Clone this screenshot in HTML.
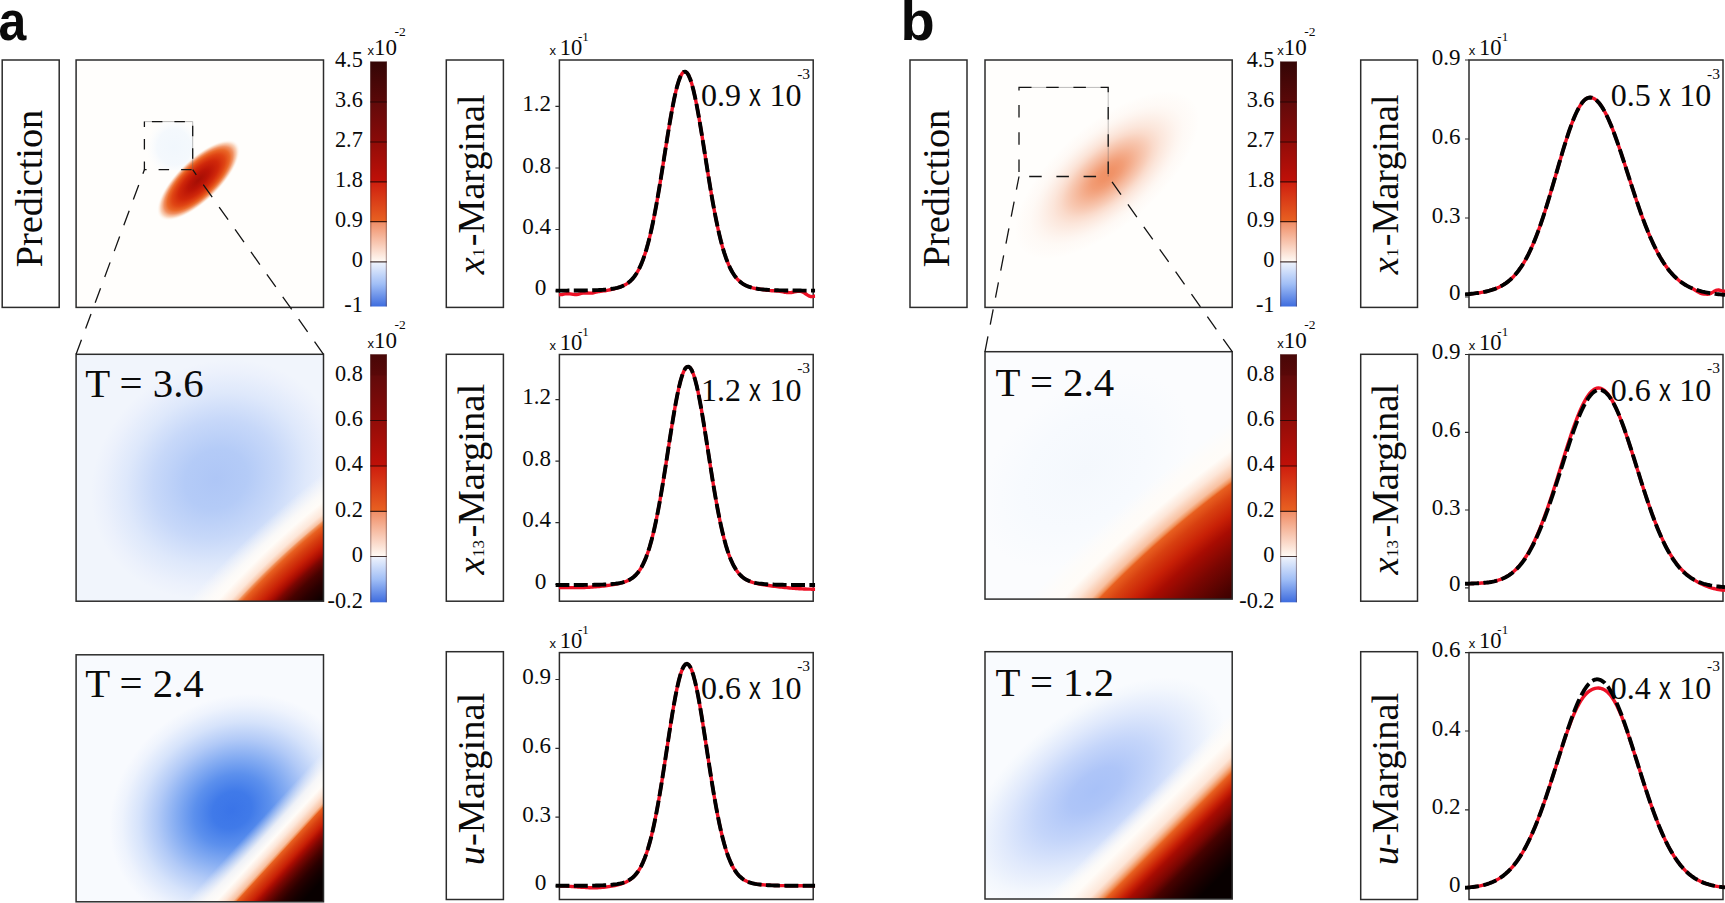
<!DOCTYPE html>
<html lang="en"><head><meta charset="utf-8"><title>Figure: prediction and marginals</title>
<style>
html,body{margin:0;padding:0;background:#fff;overflow:hidden}
svg{display:block}
text{fill:#0a0a0a}
</style></head><body>
<svg width="1725" height="903" viewBox="0 0 1725 903">
<defs>
<clipPath id="ha1"><rect x="76.1" y="60" width="247.4" height="247.4"/></clipPath>
<radialGradient id="ga1b" gradientUnits="userSpaceOnUse" cx="0" cy="0" r="1" gradientTransform="translate(174 147) rotate(0) scale(28 30)"><stop offset="0" stop-color="#f1f7fd"/><stop offset="0.6" stop-color="#f3f8fd" stop-opacity="0.9"/><stop offset="1" stop-color="#fafcfe" stop-opacity="0"/></radialGradient>
<radialGradient id="ga1" gradientUnits="userSpaceOnUse" cx="0" cy="0" r="1" gradientTransform="translate(198.5 180.2) rotate(-44) scale(54 21)"><stop offset="0" stop-color="#a40e04"/><stop offset="0.25" stop-color="#ba1406"/><stop offset="0.48" stop-color="#d0280a"/><stop offset="0.64" stop-color="#e04614"/><stop offset="0.75" stop-color="#ea6828"/><stop offset="0.83" stop-color="#f08c5c" stop-opacity="0.95"/><stop offset="0.91" stop-color="#f8c4a4" stop-opacity="0.75"/><stop offset="1" stop-color="#fffaf4" stop-opacity="0"/></radialGradient>
<radialGradient id="ga2b" gradientUnits="userSpaceOnUse" cx="0" cy="0" r="1" gradientTransform="translate(216 479) rotate(-35) scale(130 114)"><stop offset="0" stop-color="#aec6f6"/><stop offset="0.25" stop-color="#b4cbf7"/><stop offset="0.5" stop-color="#c7d8f9"/><stop offset="0.72" stop-color="#dee8fb"/><stop offset="0.9" stop-color="#ecf1fc"/><stop offset="1" stop-color="#f1f5fc"/></radialGradient>
<radialGradient id="ga2r" gradientUnits="userSpaceOnUse" cx="0" cy="0" r="1" gradientTransform="translate(353.1 653.3) rotate(-44) scale(400.92 156)"><stop offset="0" stop-color="#080000"/><stop offset="0.37" stop-color="#080000"/><stop offset="0.41" stop-color="#160000"/><stop offset="0.47" stop-color="#2a0000"/><stop offset="0.53" stop-color="#480200"/><stop offset="0.58" stop-color="#7a0602"/><stop offset="0.61" stop-color="#a80c02"/><stop offset="0.65" stop-color="#c82006"/><stop offset="0.7" stop-color="#d84010"/><stop offset="0.74" stop-color="#e86020"/><stop offset="0.76" stop-color="#f09058"/><stop offset="0.77" stop-color="#f8c0a0"/><stop offset="0.8" stop-color="#fde6d8"/><stop offset="0.86" stop-color="#fffcf8"/><stop offset="0.9" stop-color="#fffcf8" stop-opacity="0.85"/><stop offset="1" stop-color="#fffcf8" stop-opacity="0"/></radialGradient>
<radialGradient id="ga3b" gradientUnits="userSpaceOnUse" cx="0" cy="0" r="1" gradientTransform="translate(232 810) rotate(-35) scale(128 110)"><stop offset="0" stop-color="#3a74e8"/><stop offset="0.16" stop-color="#407ae9"/><stop offset="0.31" stop-color="#5c90ed"/><stop offset="0.46" stop-color="#86adf2"/><stop offset="0.61" stop-color="#b2caf7"/><stop offset="0.76" stop-color="#d6e3fb"/><stop offset="0.9" stop-color="#eef3fd"/><stop offset="1" stop-color="#f8fafe"/></radialGradient>
<linearGradient id="ga3r" gradientUnits="userSpaceOnUse" x1="323.5" y1="901.8" x2="248.3" y2="832.89"><stop offset="0" stop-color="#080000"/><stop offset="0.15" stop-color="#080000"/><stop offset="0.23" stop-color="#160000"/><stop offset="0.3" stop-color="#2a0000"/><stop offset="0.36" stop-color="#480200"/><stop offset="0.43" stop-color="#7a0602"/><stop offset="0.48" stop-color="#a80c02"/><stop offset="0.52" stop-color="#c82006"/><stop offset="0.58" stop-color="#d84010"/><stop offset="0.63" stop-color="#e86020"/><stop offset="0.64" stop-color="#f09058"/><stop offset="0.66" stop-color="#f8c0a0"/><stop offset="0.72" stop-color="#fde6d8"/><stop offset="0.78" stop-color="#fffcf8"/><stop offset="0.86" stop-color="#fffcf8" stop-opacity="0.85"/><stop offset="1" stop-color="#fffcf8" stop-opacity="0"/></linearGradient>
<clipPath id="hb1"><rect x="985" y="60" width="247.2" height="247.4"/></clipPath>
<radialGradient id="gb1" gradientUnits="userSpaceOnUse" cx="0" cy="0" r="1" gradientTransform="translate(1107 175) rotate(-41) scale(114 51)"><stop offset="0" stop-color="#f09064"/><stop offset="0.08" stop-color="#f09064" stop-opacity="0.97"/><stop offset="0.17" stop-color="#f09064" stop-opacity="0.88"/><stop offset="0.25" stop-color="#f09064" stop-opacity="0.75"/><stop offset="0.33" stop-color="#f09064" stop-opacity="0.61"/><stop offset="0.42" stop-color="#f09064" stop-opacity="0.46"/><stop offset="0.5" stop-color="#f09064" stop-opacity="0.32"/><stop offset="0.58" stop-color="#f09064" stop-opacity="0.22"/><stop offset="0.67" stop-color="#f09064" stop-opacity="0.14"/><stop offset="0.75" stop-color="#f09064" stop-opacity="0.08"/><stop offset="0.83" stop-color="#f09064" stop-opacity="0.04"/><stop offset="0.92" stop-color="#f09064" stop-opacity="0.02"/><stop offset="1" stop-color="#f09064" stop-opacity="0"/></radialGradient>
<radialGradient id="gb2b" gradientUnits="userSpaceOnUse" cx="0" cy="0" r="1" gradientTransform="translate(1085 470) rotate(-40) scale(120 80)"><stop offset="0" stop-color="#f4f8fd"/><stop offset="0.6" stop-color="#f7fafe"/><stop offset="1" stop-color="#fbfcfe"/></radialGradient>
<radialGradient id="gb2r" gradientUnits="userSpaceOnUse" cx="0" cy="0" r="1" gradientTransform="translate(1265 650.2) rotate(-41) scale(525.2 202)"><stop offset="0" stop-color="#3c0100"/><stop offset="0.3" stop-color="#3c0100"/><stop offset="0.34" stop-color="#480200"/><stop offset="0.47" stop-color="#7a0602"/><stop offset="0.57" stop-color="#a80c02"/><stop offset="0.63" stop-color="#c82006"/><stop offset="0.7" stop-color="#d84010"/><stop offset="0.75" stop-color="#e86020"/><stop offset="0.76" stop-color="#f09058"/><stop offset="0.78" stop-color="#f8c0a0"/><stop offset="0.83" stop-color="#fde6d8"/><stop offset="0.88" stop-color="#fffcf8"/><stop offset="0.92" stop-color="#fffcf8" stop-opacity="0.85"/><stop offset="1" stop-color="#fffcf8" stop-opacity="0"/></radialGradient>
<radialGradient id="gb3b" gradientUnits="userSpaceOnUse" cx="0" cy="0" r="1" gradientTransform="translate(1095 790) rotate(-38) scale(152 80)"><stop offset="0" stop-color="#a8c1f8"/><stop offset="0.2" stop-color="#aec5f8"/><stop offset="0.45" stop-color="#c4d5fa"/><stop offset="0.7" stop-color="#e0e9fc"/><stop offset="0.9" stop-color="#f3f7fd"/><stop offset="1" stop-color="#f9fbfe"/></radialGradient>
<linearGradient id="gb3r" gradientUnits="userSpaceOnUse" x1="1232.2" y1="899" x2="1137.8" y2="804.6"><stop offset="0" stop-color="#080000"/><stop offset="0.18" stop-color="#080000"/><stop offset="0.25" stop-color="#160000"/><stop offset="0.33" stop-color="#2a0000"/><stop offset="0.41" stop-color="#480200"/><stop offset="0.47" stop-color="#7a0602"/><stop offset="0.55" stop-color="#a80c02"/><stop offset="0.59" stop-color="#c82006"/><stop offset="0.63" stop-color="#d84010"/><stop offset="0.67" stop-color="#e86020"/><stop offset="0.69" stop-color="#f09058"/><stop offset="0.72" stop-color="#f8c0a0"/><stop offset="0.76" stop-color="#fde6d8"/><stop offset="0.86" stop-color="#fffcf8"/><stop offset="0.9" stop-color="#fffcf8" stop-opacity="0.85"/><stop offset="1" stop-color="#fffcf8" stop-opacity="0"/></linearGradient>
<linearGradient id="cb0" x1="0" y1="0" x2="0" y2="1"><stop offset="0.004%" stop-color="#340606"/><stop offset="16.527%" stop-color="#5a0808"/><stop offset="16.535%" stop-color="#620a0a"/><stop offset="32.853%" stop-color="#8a0a08"/><stop offset="32.861%" stop-color="#920c08"/><stop offset="49.098%" stop-color="#c01008"/><stop offset="49.106%" stop-color="#ce1e0e"/><stop offset="65.384%" stop-color="#e86222"/><stop offset="65.392%" stop-color="#f08c64"/><stop offset="81.792%" stop-color="#fffbf6"/><stop offset="81.8%" stop-color="#f0f4fc"/><stop offset="90.898%" stop-color="#a0bef6"/><stop offset="100%" stop-color="#3e6cde"/></linearGradient>
<linearGradient id="cb1" x1="0" y1="0" x2="0" y2="1"><stop offset="0.004%" stop-color="#480707"/><stop offset="8.544%" stop-color="#5a0808"/><stop offset="8.552%" stop-color="#620a0a"/><stop offset="26.69%" stop-color="#8a0a08"/><stop offset="26.698%" stop-color="#920c08"/><stop offset="45.036%" stop-color="#c01008"/><stop offset="45.044%" stop-color="#ce1e0e"/><stop offset="63.302%" stop-color="#e86222"/><stop offset="63.31%" stop-color="#f08c64"/><stop offset="81.528%" stop-color="#fffbf6"/><stop offset="81.536%" stop-color="#f0f4fc"/><stop offset="90.766%" stop-color="#a0bef6"/><stop offset="100%" stop-color="#3e6cde"/></linearGradient>
<linearGradient id="cb2" x1="0" y1="0" x2="0" y2="1"><stop offset="0.004%" stop-color="#340606"/><stop offset="16.527%" stop-color="#5a0808"/><stop offset="16.535%" stop-color="#620a0a"/><stop offset="32.853%" stop-color="#8a0a08"/><stop offset="32.861%" stop-color="#920c08"/><stop offset="49.098%" stop-color="#c01008"/><stop offset="49.106%" stop-color="#ce1e0e"/><stop offset="65.384%" stop-color="#e86222"/><stop offset="65.392%" stop-color="#f08c64"/><stop offset="81.792%" stop-color="#fffbf6"/><stop offset="81.8%" stop-color="#f0f4fc"/><stop offset="90.898%" stop-color="#a0bef6"/><stop offset="100%" stop-color="#3e6cde"/></linearGradient>
<linearGradient id="cb3" x1="0" y1="0" x2="0" y2="1"><stop offset="0.004%" stop-color="#480707"/><stop offset="8.544%" stop-color="#5a0808"/><stop offset="8.552%" stop-color="#620a0a"/><stop offset="26.69%" stop-color="#8a0a08"/><stop offset="26.698%" stop-color="#920c08"/><stop offset="45.036%" stop-color="#c01008"/><stop offset="45.044%" stop-color="#ce1e0e"/><stop offset="63.302%" stop-color="#e86222"/><stop offset="63.31%" stop-color="#f08c64"/><stop offset="81.528%" stop-color="#fffbf6"/><stop offset="81.536%" stop-color="#f0f4fc"/><stop offset="90.766%" stop-color="#a0bef6"/><stop offset="100%" stop-color="#3e6cde"/></linearGradient>
<clipPath id="cla1"><rect x="555.4" y="60" width="259.8" height="247.4"/></clipPath>
<clipPath id="cla2"><rect x="555.4" y="354.5" width="259.8" height="246.7"/></clipPath>
<clipPath id="cla3"><rect x="555.4" y="652.6" width="259.8" height="246.9"/></clipPath>
<clipPath id="clb1"><rect x="1465" y="60" width="260" height="247.4"/></clipPath>
<clipPath id="clb2"><rect x="1465" y="354.5" width="260" height="246.7"/></clipPath>
<clipPath id="clb3"><rect x="1465" y="652.6" width="260" height="246.9"/></clipPath>
</defs>
<rect width="1725" height="903" fill="#fff"/>
<text transform="translate(-1.6 40.3) scale(.9 1)" font-family='"Liberation Sans", sans-serif' font-size="55.5" font-weight="bold">a</text>
<text x="900.4" y="40.3" font-family='"Liberation Sans", sans-serif' font-size="56" text-anchor="start" font-weight="bold">b</text>
<rect x="76.1" y="60" width="247.4" height="247.4" fill="#fffefc"/>
<rect x="145" y="122" width="48" height="48" fill="url(#ga1b)"/>
<rect x="76.1" y="60" width="247.4" height="247.4" fill="url(#ga1)" clip-path="url(#ha1)"/>
<rect x="76.1" y="354.3" width="247.4" height="246.9" fill="#f1f5fc"/>
<rect x="76.1" y="354.3" width="247.4" height="246.9" fill="url(#ga2b)"/>
<rect x="76.1" y="354.3" width="247.4" height="246.9" fill="url(#ga2r)"/>
<rect x="76.1" y="654.8" width="247.4" height="247" fill="#f8fafe"/>
<rect x="76.1" y="654.8" width="247.4" height="247" fill="url(#ga3b)"/>
<rect x="76.1" y="654.8" width="247.4" height="247" fill="url(#ga3r)"/>
<rect x="985" y="60" width="247.2" height="247.4" fill="#fffefc"/>
<rect x="985" y="60" width="247.2" height="247.4" fill="url(#gb1)" clip-path="url(#hb1)"/>
<rect x="985" y="351.7" width="247.2" height="247.4" fill="#fbfcfe"/>
<rect x="985" y="351.7" width="247.2" height="247.4" fill="url(#gb2b)"/>
<rect x="985" y="351.7" width="247.2" height="247.4" fill="url(#gb2r)"/>
<rect x="985" y="651.7" width="247.2" height="247.3" fill="#f9fbfe"/>
<rect x="985" y="651.7" width="247.2" height="247.3" fill="url(#gb3b)"/>
<rect x="985" y="651.7" width="247.2" height="247.3" fill="url(#gb3r)"/>
<rect x="76.1" y="60" width="247.4" height="247.4" fill="none" stroke="#2c2c2c" stroke-width="1.5"/>
<rect x="76.1" y="354.3" width="247.4" height="246.9" fill="none" stroke="#2c2c2c" stroke-width="1.5"/>
<rect x="76.1" y="654.8" width="247.4" height="247" fill="none" stroke="#2c2c2c" stroke-width="1.5"/>
<rect x="985" y="60" width="247.2" height="247.4" fill="none" stroke="#2c2c2c" stroke-width="1.5"/>
<rect x="985" y="351.7" width="247.2" height="247.4" fill="none" stroke="#2c2c2c" stroke-width="1.5"/>
<rect x="985" y="651.7" width="247.2" height="247.3" fill="none" stroke="#2c2c2c" stroke-width="1.5"/>
<path d="M144.4 121.6H192.7V169.7" fill="none" stroke="#666" stroke-width=".45"/>
<path d="M144.4 121.6H192.7V169.7H144.4Z" fill="none" stroke="#141414" stroke-width="1.3" stroke-dasharray="10.5 12" stroke-dashoffset="-7.5"/>
<path d="M76.1 354.3L144.4 169.7" stroke="#141414" stroke-width="1.3" stroke-dasharray="15.5 12" fill="none"/>
<path d="M323.5 354.3L192.7 169.7" stroke="#141414" stroke-width="1.3" stroke-dasharray="15.5 12" fill="none"/>
<path d="M1019 87.4H1108.2V176.5" fill="none" stroke="#666" stroke-width=".45"/>
<path d="M1019 87.4H1108.2V176.5H1019Z" fill="none" stroke="#141414" stroke-width="1.3" stroke-dasharray="12.5 14.7"/>
<path d="M985 351.7L1019 176.5" stroke="#141414" stroke-width="1.3" stroke-dasharray="15.5 12" fill="none"/>
<path d="M1232.2 351.7L1108.2 176.5" stroke="#141414" stroke-width="1.3" stroke-dasharray="15.5 12" fill="none"/>
<text x="85.2" y="396.6" font-family='"Liberation Serif", serif' font-size="40.8" text-anchor="start">T = 3.6</text>
<text x="85.2" y="696.6" font-family='"Liberation Serif", serif' font-size="40.8" text-anchor="start">T = 2.4</text>
<text x="995.5" y="396.4" font-family='"Liberation Serif", serif' font-size="40.8" text-anchor="start">T = 2.4</text>
<text x="995.5" y="696.4" font-family='"Liberation Serif", serif' font-size="40.8" text-anchor="start">T = 1.2</text>
<rect x="370.3" y="61.5" width="16.5" height="245" fill="url(#cb0)"/>
<path d="M370.8 61.5V306.5M386.3 61.5V306.5" stroke="#401818" stroke-opacity=".45" stroke-width="1" fill="none"/>
<path d="M370.3 102H386.8M370.3 142H386.8M370.3 181.8H386.8M370.3 221.7H386.8M370.3 261.9H386.8" stroke="#1a0606" stroke-opacity=".8" stroke-width="1.2" fill="none"/>
<text x="362.8" y="66.7" font-family='"Liberation Serif", serif' font-size="22.3" text-anchor="end">4.5</text>
<text x="362.8" y="107.2" font-family='"Liberation Serif", serif' font-size="22.3" text-anchor="end">3.6</text>
<text x="362.8" y="147.2" font-family='"Liberation Serif", serif' font-size="22.3" text-anchor="end">2.7</text>
<text x="362.8" y="187" font-family='"Liberation Serif", serif' font-size="22.3" text-anchor="end">1.8</text>
<text x="362.8" y="226.9" font-family='"Liberation Serif", serif' font-size="22.3" text-anchor="end">0.9</text>
<text x="362.8" y="267.1" font-family='"Liberation Serif", serif' font-size="22.3" text-anchor="end">0</text>
<text x="362.8" y="311.7" font-family='"Liberation Serif", serif' font-size="22.3" text-anchor="end">-1</text>
<text x="367.4" y="55.2" font-family='"Liberation Sans", sans-serif' font-size="13" text-anchor="start">x</text>
<text x="373.9" y="55.3" font-family='"Liberation Serif", serif' font-size="23" text-anchor="start">10</text>
<text x="394.4" y="36.3" font-family='"Liberation Serif", serif' font-size="13.5" text-anchor="start">-2</text>
<rect x="370.3" y="354.3" width="16.5" height="248" fill="url(#cb1)"/>
<path d="M370.8 354.3V602.3M386.3 354.3V602.3" stroke="#401818" stroke-opacity=".45" stroke-width="1" fill="none"/>
<path d="M370.3 420.5H386.8M370.3 466H386.8M370.3 511.3H386.8M370.3 556.5H386.8" stroke="#1a0606" stroke-opacity=".8" stroke-width="1.2" fill="none"/>
<text x="362.8" y="380.7" font-family='"Liberation Serif", serif' font-size="22.3" text-anchor="end">0.8</text>
<text x="362.8" y="425.7" font-family='"Liberation Serif", serif' font-size="22.3" text-anchor="end">0.6</text>
<text x="362.8" y="471.2" font-family='"Liberation Serif", serif' font-size="22.3" text-anchor="end">0.4</text>
<text x="362.8" y="516.5" font-family='"Liberation Serif", serif' font-size="22.3" text-anchor="end">0.2</text>
<text x="362.8" y="561.7" font-family='"Liberation Serif", serif' font-size="22.3" text-anchor="end">0</text>
<text x="362.8" y="607.5" font-family='"Liberation Serif", serif' font-size="22.3" text-anchor="end">-0.2</text>
<text x="367.4" y="348" font-family='"Liberation Sans", sans-serif' font-size="13" text-anchor="start">x</text>
<text x="373.9" y="348.1" font-family='"Liberation Serif", serif' font-size="23" text-anchor="start">10</text>
<text x="394.4" y="329.1" font-family='"Liberation Serif", serif' font-size="13.5" text-anchor="start">-2</text>
<rect x="1280.2" y="61.5" width="16.7" height="245" fill="url(#cb2)"/>
<path d="M1280.7 61.5V306.5M1296.4 61.5V306.5" stroke="#401818" stroke-opacity=".45" stroke-width="1" fill="none"/>
<path d="M1280.2 102H1296.9M1280.2 142H1296.9M1280.2 181.8H1296.9M1280.2 221.7H1296.9M1280.2 261.9H1296.9" stroke="#1a0606" stroke-opacity=".8" stroke-width="1.2" fill="none"/>
<text x="1274.5" y="66.7" font-family='"Liberation Serif", serif' font-size="22.3" text-anchor="end">4.5</text>
<text x="1274.5" y="107.2" font-family='"Liberation Serif", serif' font-size="22.3" text-anchor="end">3.6</text>
<text x="1274.5" y="147.2" font-family='"Liberation Serif", serif' font-size="22.3" text-anchor="end">2.7</text>
<text x="1274.5" y="187" font-family='"Liberation Serif", serif' font-size="22.3" text-anchor="end">1.8</text>
<text x="1274.5" y="226.9" font-family='"Liberation Serif", serif' font-size="22.3" text-anchor="end">0.9</text>
<text x="1274.5" y="267.1" font-family='"Liberation Serif", serif' font-size="22.3" text-anchor="end">0</text>
<text x="1274.5" y="311.7" font-family='"Liberation Serif", serif' font-size="22.3" text-anchor="end">-1</text>
<text x="1277.3" y="55.2" font-family='"Liberation Sans", sans-serif' font-size="13" text-anchor="start">x</text>
<text x="1283.8" y="55.3" font-family='"Liberation Serif", serif' font-size="23" text-anchor="start">10</text>
<text x="1304.3" y="36.3" font-family='"Liberation Serif", serif' font-size="13.5" text-anchor="start">-2</text>
<rect x="1280.2" y="354.3" width="16.7" height="248" fill="url(#cb3)"/>
<path d="M1280.7 354.3V602.3M1296.4 354.3V602.3" stroke="#401818" stroke-opacity=".45" stroke-width="1" fill="none"/>
<path d="M1280.2 420.5H1296.9M1280.2 466H1296.9M1280.2 511.3H1296.9M1280.2 556.5H1296.9" stroke="#1a0606" stroke-opacity=".8" stroke-width="1.2" fill="none"/>
<text x="1274.5" y="380.7" font-family='"Liberation Serif", serif' font-size="22.3" text-anchor="end">0.8</text>
<text x="1274.5" y="425.7" font-family='"Liberation Serif", serif' font-size="22.3" text-anchor="end">0.6</text>
<text x="1274.5" y="471.2" font-family='"Liberation Serif", serif' font-size="22.3" text-anchor="end">0.4</text>
<text x="1274.5" y="516.5" font-family='"Liberation Serif", serif' font-size="22.3" text-anchor="end">0.2</text>
<text x="1274.5" y="561.7" font-family='"Liberation Serif", serif' font-size="22.3" text-anchor="end">0</text>
<text x="1274.5" y="607.5" font-family='"Liberation Serif", serif' font-size="22.3" text-anchor="end">-0.2</text>
<text x="1277.3" y="348" font-family='"Liberation Sans", sans-serif' font-size="13" text-anchor="start">x</text>
<text x="1283.8" y="348.1" font-family='"Liberation Serif", serif' font-size="23" text-anchor="start">10</text>
<text x="1304.3" y="329.1" font-family='"Liberation Serif", serif' font-size="13.5" text-anchor="start">-2</text>
<rect x="2.2" y="60" width="57" height="247.4" fill="none" stroke="#2c2c2c" stroke-width="1.5"/>
<rect x="446.3" y="60" width="57.1" height="247.4" fill="none" stroke="#2c2c2c" stroke-width="1.5"/>
<rect x="446.3" y="354.3" width="57.1" height="246.9" fill="none" stroke="#2c2c2c" stroke-width="1.5"/>
<rect x="446.3" y="651.7" width="57.1" height="247.8" fill="none" stroke="#2c2c2c" stroke-width="1.5"/>
<rect x="910" y="60" width="57" height="247.4" fill="none" stroke="#2c2c2c" stroke-width="1.5"/>
<rect x="1360.7" y="60" width="56.8" height="247.4" fill="none" stroke="#2c2c2c" stroke-width="1.5"/>
<rect x="1360.7" y="354.3" width="56.8" height="246.9" fill="none" stroke="#2c2c2c" stroke-width="1.5"/>
<rect x="1360.7" y="651.7" width="56.8" height="247.8" fill="none" stroke="#2c2c2c" stroke-width="1.5"/>
<text transform="translate(41.6 267.2) rotate(-90)" font-family='"Liberation Serif", serif' font-size="38.3">Prediction</text>
<text transform="translate(483.8 274.2) rotate(-90)" font-family='"Liberation Serif", serif' font-size="38.15"><tspan font-style="italic">x</tspan><tspan font-size="17" dx=".4">1</tspan><tspan dx="2.2">-Marginal</tspan></text>
<text transform="translate(483.8 574.5) rotate(-90)" font-family='"Liberation Serif", serif' font-size="38.6"><tspan font-style="italic">x</tspan><tspan font-size="17" dx=".4">13</tspan><tspan dx="2.6">-Marginal</tspan></text>
<text transform="translate(483.8 865.2) rotate(-90)" font-family='"Liberation Serif", serif' font-size="38.5"><tspan font-style="italic">u</tspan>-Marginal</text>
<text transform="translate(949.4 267.2) rotate(-90)" font-family='"Liberation Serif", serif' font-size="38.3">Prediction</text>
<text transform="translate(1398.4 274.2) rotate(-90)" font-family='"Liberation Serif", serif' font-size="38.15"><tspan font-style="italic">x</tspan><tspan font-size="17" dx=".4">1</tspan><tspan dx="2.2">-Marginal</tspan></text>
<text transform="translate(1398.4 574.5) rotate(-90)" font-family='"Liberation Serif", serif' font-size="38.6"><tspan font-style="italic">x</tspan><tspan font-size="17" dx=".4">13</tspan><tspan dx="2.6">-Marginal</tspan></text>
<text transform="translate(1398.4 865.2) rotate(-90)" font-family='"Liberation Serif", serif' font-size="38.5"><tspan font-style="italic">u</tspan>-Marginal</text>
<rect x="559.4" y="60" width="253.8" height="247.4" fill="none" stroke="#2c2c2c" stroke-width="1.5"/>
<path d="M555.4 106.4H559.4M555.4 168H559.4M555.4 229.5H559.4M555.4 291H559.4" stroke="#2c2c2c" stroke-width="1.2" fill="none"/>
<text x="551" y="110.9" font-family='"Liberation Serif", serif' font-size="23" text-anchor="end">1.2</text>
<text x="551" y="172.5" font-family='"Liberation Serif", serif' font-size="23" text-anchor="end">0.8</text>
<text x="551" y="234" font-family='"Liberation Serif", serif' font-size="23" text-anchor="end">0.4</text>
<text x="546.4" y="295.3" font-family='"Liberation Serif", serif' font-size="23.3" text-anchor="end">0</text>
<text x="549.4" y="55.4" font-family='"Liberation Sans", sans-serif' font-size="13" text-anchor="start">x</text>
<text x="559.7" y="55.4" font-family='"Liberation Serif", serif' font-size="22.5" text-anchor="start">10</text>
<text x="578" y="41.4" font-family='"Liberation Serif", serif' font-size="13" text-anchor="start">-1</text>
<g clip-path="url(#cla1)" fill="none" stroke-linejoin="round">
<path d="M558.9 294.68L560.5 294.65L562.1 294.46L563.71 294.16L565.31 293.88L566.91 293.7L568.51 293.7L570.11 293.87L571.72 294.14L573.32 294.4L574.92 294.53L576.52 294.48L578.12 294.23L579.72 293.85L581.33 293.44L582.93 293.11L584.53 292.94L586.13 292.94L587.73 293.05L589.34 293.16L590.94 293.16L592.54 292.98L594.14 292.64L595.74 292.22L597.35 291.8L598.95 291.45L600.55 291.21L602.15 291.05L603.75 290.89L605.35 290.7L606.96 290.44L608.56 290.12L610.16 289.77L611.76 289.4L613.36 289.02L614.97 288.62L616.57 288.18L618.17 287.69L619.77 287.15L621.37 286.54L622.98 285.85L624.58 285.06L626.18 284.15L627.78 283.09L629.38 281.85L630.98 280.41L632.59 278.73L634.19 276.78L635.79 274.53L637.39 271.94L638.99 268.97L640.6 265.6L642.2 261.77L643.8 257.46L645.4 252.64L647 247.28L648.61 241.36L650.21 234.86L651.81 227.8L653.41 220.17L655.01 211.99L656.61 203.31L658.22 194.17L659.82 184.64L661.42 174.8L663.02 164.74L664.62 154.57L666.23 144.41L667.83 134.4L669.43 124.66L671.03 115.35L672.63 106.61L674.24 98.58L675.84 91.38L677.44 85.16L679.04 80L680.64 76.02L682.24 73.28L683.85 71.84L685.45 71.71L687.05 72.9L688.65 75.4L690.25 79.15L691.86 84.09L693.46 90.12L695.06 97.13L696.66 105.02L698.26 113.64L699.87 122.85L701.47 132.52L703.07 142.49L704.67 152.63L706.27 162.8L707.87 172.89L709.48 182.78L711.08 192.38L712.68 201.6L714.28 210.37L715.88 218.65L717.49 226.38L719.09 233.56L720.69 240.16L722.29 246.19L723.89 251.66L725.5 256.58L727.1 260.99L728.7 264.9L730.3 268.36L731.9 271.4L733.5 274.06L735.11 276.37L736.71 278.38L738.31 280.11L739.91 281.59L741.51 282.87L743.12 283.96L744.72 284.9L746.32 285.69L747.92 286.37L749.52 286.95L751.12 287.45L752.73 287.88L754.33 288.24L755.93 288.55L757.53 288.82L759.13 289.05L760.74 289.26L762.34 289.49L763.94 289.74L765.54 290L767.14 290.23L768.75 290.43L770.35 290.58L771.95 290.69L773.55 290.77L775.15 290.86L776.76 290.97L778.36 291.13L779.96 291.35L781.56 291.62L783.16 291.93L784.76 292.22L786.37 292.44L787.97 292.57L789.57 292.58L791.17 292.47L792.77 292.25L794.38 291.95L795.98 291.65L797.58 291.4L799.18 291.26L800.78 291.31L802.38 291.81L803.99 292.67L805.59 293.75L807.19 294.86L808.79 295.82L810.39 296.46L812 296.62L813.6 296.41L815.2 296.01" stroke="#ee1126" stroke-width="3.4"/>
<path d="M555.4 290.59L557.02 290.59L558.65 290.59L560.27 290.59L561.89 290.59L563.52 290.58L565.14 290.58L566.77 290.58L568.39 290.57L570.01 290.57L571.64 290.56L573.26 290.55L574.88 290.55L576.51 290.53L578.13 290.52L579.76 290.51L581.38 290.49L583 290.47L584.63 290.45L586.25 290.42L587.88 290.39L589.5 290.36L591.12 290.32L592.75 290.28L594.37 290.22L595.99 290.16L597.62 290.1L599.24 290.02L600.87 289.93L602.49 289.83L604.11 289.71L605.74 289.57L607.36 289.42L608.98 289.24L610.61 289.03L612.23 288.8L613.86 288.52L615.48 288.2L617.1 287.82L618.73 287.38L620.35 286.86L621.97 286.26L623.6 285.55L625.22 284.71L626.85 283.73L628.47 282.58L630.09 281.24L631.72 279.67L633.34 277.85L634.96 275.73L636.59 273.28L638.21 270.47L639.84 267.25L641.46 263.59L643.08 259.45L644.71 254.8L646.33 249.6L647.95 243.83L649.58 237.48L651.2 230.54L652.83 223.02L654.45 214.93L656.07 206.3L657.7 197.19L659.32 187.64L660.94 177.75L662.57 167.61L664.19 157.32L665.82 147.01L667.44 136.81L669.06 126.86L670.69 117.32L672.31 108.32L673.93 100.03L675.56 92.57L677.18 86.09L678.81 80.69L680.43 76.48L682.05 73.54L683.68 71.93L685.3 71.66L686.92 72.76L688.55 75.2L690.17 78.93L691.8 83.88L693.42 89.96L695.04 97.06L696.67 105.05L698.29 113.79L699.91 123.14L701.54 132.95L703.16 143.07L704.79 153.35L706.41 163.67L708.03 173.88L709.66 183.88L711.28 193.57L712.9 202.85L714.53 211.68L716.15 219.98L717.78 227.72L719.4 234.89L721.02 241.46L722.65 247.45L724.27 252.87L725.89 257.73L727.52 262.06L729.14 265.9L730.77 269.28L732.39 272.25L734.01 274.83L735.64 277.07L737.26 279L738.88 280.67L740.51 282.09L742.13 283.31L743.75 284.35L745.38 285.24L747 286L748.63 286.64L750.25 287.19L751.87 287.66L753.5 288.06L755.12 288.4L756.75 288.69L758.37 288.95L759.99 289.17L761.62 289.35L763.24 289.52L764.86 289.66L766.49 289.78L768.11 289.89L769.74 289.99L771.36 290.07L772.98 290.14L774.61 290.2L776.23 290.26L777.85 290.3L779.48 290.35L781.1 290.38L782.73 290.41L784.35 290.44L785.97 290.46L787.6 290.48L789.22 290.5L790.84 290.52L792.47 290.53L794.09 290.54L795.72 290.55L797.34 290.56L798.96 290.57L800.59 290.57L802.21 290.58L803.83 290.58L805.46 290.58L807.08 290.59L808.71 290.59L810.33 290.59L811.95 290.59L813.58 290.59L815.2 290.6" stroke="#000" stroke-width="3.9" stroke-dasharray="14 4.4"/>
</g>
<text x="701" y="106" font-family='"Liberation Serif", serif' font-size="32" text-anchor="start">0.9</text>
<text x="749.1" y="106" font-family='"Liberation Sans", sans-serif' font-size="32" textLength="11.8" lengthAdjust="spacingAndGlyphs">x</text>
<text x="769.4" y="106" font-family='"Liberation Serif", serif' font-size="32" text-anchor="start">10</text>
<text x="797.2" y="78.8" font-family='"Liberation Serif", serif' font-size="15.5" text-anchor="start">-3</text>
<rect x="559.4" y="354.5" width="253.8" height="246.7" fill="none" stroke="#2c2c2c" stroke-width="1.5"/>
<path d="M555.4 399.7H559.4M555.4 461.2H559.4M555.4 522.7H559.4M555.4 584.3H559.4" stroke="#2c2c2c" stroke-width="1.2" fill="none"/>
<text x="551" y="404.2" font-family='"Liberation Serif", serif' font-size="23" text-anchor="end">1.2</text>
<text x="551" y="465.7" font-family='"Liberation Serif", serif' font-size="23" text-anchor="end">0.8</text>
<text x="551" y="527.2" font-family='"Liberation Serif", serif' font-size="23" text-anchor="end">0.4</text>
<text x="546.4" y="588.6" font-family='"Liberation Serif", serif' font-size="23.3" text-anchor="end">0</text>
<text x="549.4" y="349.9" font-family='"Liberation Sans", sans-serif' font-size="13" text-anchor="start">x</text>
<text x="559.7" y="349.9" font-family='"Liberation Serif", serif' font-size="22.5" text-anchor="start">10</text>
<text x="578" y="335.9" font-family='"Liberation Serif", serif' font-size="13" text-anchor="start">-1</text>
<g clip-path="url(#cla2)" fill="none" stroke-linejoin="round">
<path d="M558.9 587.6L560.5 587.59L562.1 587.59L563.71 587.59L565.31 587.59L566.91 587.59L568.51 587.59L570.11 587.58L571.72 587.58L573.32 587.58L574.92 587.57L576.52 587.57L578.12 587.56L579.72 587.55L581.33 587.54L582.93 587.51L584.53 587.46L586.13 587.4L587.73 587.33L589.34 587.24L590.94 587.14L592.54 587.03L594.14 586.9L595.74 586.77L597.35 586.62L598.95 586.46L600.55 586.3L602.15 586.12L603.75 585.94L605.35 585.74L606.96 585.53L608.56 585.32L610.16 585.09L611.76 584.84L613.36 584.58L614.97 584.3L616.57 584L618.17 583.67L619.77 583.3L621.37 582.89L622.98 582.43L624.58 581.91L626.18 581.31L627.78 580.63L629.38 579.83L630.98 578.9L632.59 577.8L634.19 576.5L635.79 574.98L637.39 573.19L638.99 571.11L640.6 568.69L642.2 565.89L643.8 562.68L645.4 559.02L647 554.86L648.61 550.18L650.21 544.95L651.81 539.14L653.41 532.73L655.01 525.72L656.61 518.12L658.22 509.95L659.82 501.24L661.42 492.03L663.02 482.39L664.62 472.41L666.23 462.19L667.83 451.82L669.43 441.44L671.03 431.19L672.63 421.2L674.24 411.64L675.84 402.64L677.44 394.36L679.04 386.94L680.64 380.51L682.24 375.18L683.85 371.07L685.45 368.24L687.05 366.74L688.65 366.61L690.25 367.86L691.86 370.44L693.46 374.32L695.06 379.43L696.66 385.66L698.26 392.91L699.87 401.04L701.47 409.92L703.07 419.39L704.67 429.31L706.27 439.52L707.87 449.89L709.48 460.26L711.08 470.53L712.68 480.56L714.28 490.27L715.88 499.56L717.49 508.37L719.09 516.65L720.69 524.35L722.29 531.47L723.89 537.99L725.5 543.91L727.1 549.25L728.7 554.03L730.3 558.28L731.9 562.03L733.5 565.33L735.11 568.19L736.71 570.68L738.31 572.83L739.91 574.67L741.51 576.24L743.12 577.58L744.72 578.71L746.32 579.67L747.92 580.5L749.52 581.21L751.12 581.83L752.73 582.36L754.33 582.83L755.93 583.25L757.53 583.63L759.13 583.96L760.74 584.27L762.34 584.56L763.94 584.83L765.54 585.08L767.14 585.32L768.75 585.55L770.35 585.77L771.95 585.98L773.55 586.19L775.15 586.39L776.76 586.58L778.36 586.77L779.96 586.96L781.56 587.14L783.16 587.31L784.76 587.48L786.37 587.65L787.97 587.8L789.57 587.96L791.17 588.1L792.77 588.24L794.38 588.37L795.98 588.49L797.58 588.61L799.18 588.72L800.78 588.81L802.38 588.9L803.99 588.98L805.59 589.04L807.19 589.1L808.79 589.14L810.39 589.17L812 589.19L813.6 589.19L815.2 589.19" stroke="#ee1126" stroke-width="3.4"/>
<path d="M555.4 585L557.02 585L558.65 585L560.27 585L561.89 584.99L563.52 584.99L565.14 584.99L566.77 584.99L568.39 584.99L570.01 584.98L571.64 584.98L573.26 584.98L574.88 584.97L576.51 584.97L578.13 584.96L579.76 584.95L581.38 584.95L583 584.94L584.63 584.92L586.25 584.91L587.88 584.89L589.5 584.88L591.12 584.86L592.75 584.83L594.37 584.8L595.99 584.77L597.62 584.73L599.24 584.69L600.87 584.64L602.49 584.59L604.11 584.52L605.74 584.45L607.36 584.36L608.98 584.26L610.61 584.15L612.23 584.02L613.86 583.86L615.48 583.68L617.1 583.46L618.73 583.21L620.35 582.9L621.97 582.55L623.6 582.12L625.22 581.61L626.85 581.01L628.47 580.29L630.09 579.44L631.72 578.42L633.34 577.22L634.96 575.8L636.59 574.12L638.21 572.16L639.84 569.88L641.46 567.23L643.08 564.17L644.71 560.67L646.33 556.67L647.95 552.15L649.58 547.07L651.2 541.41L652.83 535.14L654.45 528.26L656.07 520.76L657.7 512.67L659.32 504L660.94 494.81L662.57 485.17L664.19 475.14L665.82 464.83L667.44 454.34L669.06 443.81L670.69 433.38L672.31 423.19L673.93 413.4L675.56 404.16L677.18 395.64L678.81 387.97L680.43 381.3L682.05 375.76L683.68 371.45L685.3 368.44L686.92 366.81L688.55 366.58L690.17 367.76L691.8 370.32L693.42 374.22L695.04 379.37L696.67 385.68L698.29 393.04L699.91 401.3L701.54 410.32L703.16 419.95L704.79 430.03L706.41 440.4L708.03 450.91L709.66 461.42L711.28 471.81L712.9 481.94L714.53 491.72L716.15 501.06L717.78 509.9L719.4 518.19L721.02 525.88L722.65 532.97L724.27 539.44L725.89 545.3L727.52 550.56L729.14 555.26L730.77 559.42L732.39 563.08L734.01 566.28L735.64 569.06L737.26 571.46L738.88 573.52L740.51 575.28L742.13 576.78L743.75 578.05L745.38 579.13L747 580.03L748.63 580.79L750.25 581.43L751.87 581.97L753.5 582.42L755.12 582.79L756.75 583.11L758.37 583.38L759.99 583.61L761.62 583.8L763.24 583.97L764.86 584.11L766.49 584.23L768.11 584.33L769.74 584.42L771.36 584.5L772.98 584.57L774.61 584.63L776.23 584.68L777.85 584.72L779.48 584.76L781.1 584.79L782.73 584.82L784.35 584.85L785.97 584.87L787.6 584.89L789.22 584.91L790.84 584.92L792.47 584.93L794.09 584.94L795.72 584.95L797.34 584.96L798.96 584.97L800.59 584.97L802.21 584.98L803.83 584.98L805.46 584.98L807.08 584.99L808.71 584.99L810.33 584.99L811.95 584.99L813.58 584.99L815.2 584.99" stroke="#000" stroke-width="3.9" stroke-dasharray="14 4.4"/>
</g>
<text x="701" y="400.5" font-family='"Liberation Serif", serif' font-size="32" text-anchor="start">1.2</text>
<text x="749.1" y="400.5" font-family='"Liberation Sans", sans-serif' font-size="32" textLength="11.8" lengthAdjust="spacingAndGlyphs">x</text>
<text x="769.4" y="400.5" font-family='"Liberation Serif", serif' font-size="32" text-anchor="start">10</text>
<text x="797.2" y="373.3" font-family='"Liberation Serif", serif' font-size="15.5" text-anchor="start">-3</text>
<rect x="559.4" y="652.6" width="253.8" height="246.9" fill="none" stroke="#2c2c2c" stroke-width="1.5"/>
<path d="M555.4 679.5H559.4M555.4 748.3H559.4M555.4 817.2H559.4M555.4 886H559.4" stroke="#2c2c2c" stroke-width="1.2" fill="none"/>
<text x="551" y="684" font-family='"Liberation Serif", serif' font-size="23" text-anchor="end">0.9</text>
<text x="551" y="752.8" font-family='"Liberation Serif", serif' font-size="23" text-anchor="end">0.6</text>
<text x="551" y="821.7" font-family='"Liberation Serif", serif' font-size="23" text-anchor="end">0.3</text>
<text x="546.4" y="890.3" font-family='"Liberation Serif", serif' font-size="23.3" text-anchor="end">0</text>
<text x="549.4" y="648" font-family='"Liberation Sans", sans-serif' font-size="13" text-anchor="start">x</text>
<text x="559.7" y="648" font-family='"Liberation Serif", serif' font-size="22.5" text-anchor="start">10</text>
<text x="578" y="634" font-family='"Liberation Serif", serif' font-size="13" text-anchor="start">-1</text>
<g clip-path="url(#cla3)" fill="none" stroke-linejoin="round">
<path d="M558.9 885.94L560.5 885.98L562.1 886.03L563.71 886.08L565.31 886.14L566.91 886.21L568.51 886.29L570.11 886.38L571.72 886.47L573.32 886.58L574.92 886.69L576.52 886.81L578.12 886.93L579.72 887.06L581.33 887.18L582.93 887.3L584.53 887.42L586.13 887.52L587.73 887.61L589.34 887.68L590.94 887.73L592.54 887.76L594.14 887.77L595.74 887.75L597.35 887.7L598.95 887.63L600.55 887.53L602.15 887.4L603.75 887.24L605.35 887.06L606.96 886.86L608.56 886.63L610.16 886.38L611.76 886.1L613.36 885.8L614.97 885.47L616.57 885.12L618.17 884.73L619.77 884.29L621.37 883.81L622.98 883.26L624.58 882.64L626.18 881.93L627.78 881.1L629.38 880.15L630.98 879.03L632.59 877.73L634.19 876.21L635.79 874.44L637.39 872.38L638.99 870L640.6 867.24L642.2 864.08L643.8 860.48L645.4 856.38L647 851.76L648.61 846.58L650.21 840.82L651.81 834.46L653.41 827.5L655.01 819.92L656.61 811.76L658.22 803.04L659.82 793.8L661.42 784.11L663.02 774.04L664.62 763.7L666.23 753.19L667.83 742.63L669.43 732.16L671.03 721.93L672.63 712.08L674.24 702.77L675.84 694.16L677.44 686.38L679.04 679.58L680.64 673.88L682.24 669.37L683.85 666.16L685.45 664.3L687.05 663.82L688.65 664.73L690.25 667.02L691.86 670.64L693.46 675.53L695.06 681.59L696.66 688.71L698.26 696.76L699.87 705.61L701.47 715.1L703.07 725.09L704.67 735.41L706.27 745.92L707.87 756.48L709.48 766.95L711.08 777.22L712.68 787.18L714.28 796.73L715.88 805.82L717.49 814.37L719.09 822.35L720.69 829.73L722.29 836.51L723.89 842.68L725.5 848.25L727.1 853.24L728.7 857.69L730.3 861.62L731.9 865.08L733.5 868.1L735.11 870.71L736.71 872.97L738.31 874.91L739.91 876.57L741.51 877.98L743.12 879.18L744.72 880.19L746.32 881.05L747.92 881.77L749.52 882.37L751.12 882.88L752.73 883.31L754.33 883.67L755.93 883.97L757.53 884.23L759.13 884.45L760.74 884.63L762.34 884.79L763.94 884.93L765.54 885.05L767.14 885.15L768.75 885.23L770.35 885.31L771.95 885.37L773.55 885.43L775.15 885.48L776.76 885.52L778.36 885.56L779.96 885.59L781.56 885.62L783.16 885.65L784.76 885.67L786.37 885.69L787.97 885.7L789.57 885.72L791.17 885.73L792.77 885.74L794.38 885.75L795.98 885.76L797.58 885.76L799.18 885.77L800.78 885.78L802.38 885.78L803.99 885.78L805.59 885.79L807.19 885.79L808.79 885.79L810.39 885.79L812 885.79L813.6 885.79L815.2 885.8" stroke="#ee1126" stroke-width="3.4"/>
<path d="M555.4 885.8L557.02 885.8L558.65 885.8L560.27 885.79L561.89 885.79L563.52 885.79L565.14 885.79L566.77 885.79L568.39 885.79L570.01 885.78L571.64 885.78L573.26 885.77L574.88 885.77L576.51 885.76L578.13 885.76L579.76 885.75L581.38 885.74L583 885.73L584.63 885.71L586.25 885.7L587.88 885.68L589.5 885.66L591.12 885.64L592.75 885.61L594.37 885.58L595.99 885.54L597.62 885.5L599.24 885.46L600.87 885.4L602.49 885.34L604.11 885.27L605.74 885.19L607.36 885.09L608.98 884.98L610.61 884.85L612.23 884.7L613.86 884.52L615.48 884.32L617.1 884.07L618.73 883.78L620.35 883.43L621.97 883.02L623.6 882.53L625.22 881.95L626.85 881.26L628.47 880.43L630.09 879.45L631.72 878.28L633.34 876.9L634.96 875.27L636.59 873.37L638.21 871.14L639.84 868.55L641.46 865.56L643.08 862.12L644.71 858.2L646.33 853.75L647.95 848.74L649.58 843.15L651.2 836.94L652.83 830.11L654.45 822.65L656.07 814.58L657.7 805.93L659.32 796.72L660.94 787.03L662.57 776.93L664.19 766.51L665.82 755.89L667.44 745.19L669.06 734.54L670.69 724.1L672.31 714.03L673.93 704.48L675.56 695.6L677.18 687.57L678.81 680.51L680.43 674.57L682.05 669.85L683.68 666.44L685.3 664.41L686.92 663.8L688.55 664.63L690.17 666.87L691.8 670.48L693.42 675.4L695.04 681.52L696.67 688.73L698.29 696.91L699.91 705.89L701.54 715.53L703.16 725.68L704.79 736.16L706.41 746.82L708.03 757.52L709.66 768.12L711.28 778.49L712.9 788.54L714.53 798.16L716.15 807.28L717.78 815.85L719.4 823.83L721.02 831.19L722.65 837.93L724.27 844.04L725.89 849.55L727.52 854.46L729.14 858.83L730.77 862.67L732.39 866.04L734.01 868.97L735.64 871.5L737.26 873.68L738.88 875.54L740.51 877.12L742.13 878.47L743.75 879.61L745.38 880.56L747 881.37L748.63 882.05L750.25 882.61L751.87 883.09L753.5 883.49L755.12 883.83L756.75 884.11L758.37 884.35L759.99 884.55L761.62 884.72L763.24 884.87L764.86 885L766.49 885.11L768.11 885.2L769.74 885.28L771.36 885.35L772.98 885.41L774.61 885.46L776.23 885.51L777.85 885.55L779.48 885.59L781.1 885.62L782.73 885.64L784.35 885.66L785.97 885.68L787.6 885.7L789.22 885.72L790.84 885.73L792.47 885.74L794.09 885.75L795.72 885.76L797.34 885.76L798.96 885.77L800.59 885.77L802.21 885.78L803.83 885.78L805.46 885.79L807.08 885.79L808.71 885.79L810.33 885.79L811.95 885.79L813.58 885.79L815.2 885.8" stroke="#000" stroke-width="3.9" stroke-dasharray="14 4.4"/>
</g>
<text x="701" y="698.6" font-family='"Liberation Serif", serif' font-size="32" text-anchor="start">0.6</text>
<text x="749.1" y="698.6" font-family='"Liberation Sans", sans-serif' font-size="32" textLength="11.8" lengthAdjust="spacingAndGlyphs">x</text>
<text x="769.4" y="698.6" font-family='"Liberation Serif", serif' font-size="32" text-anchor="start">10</text>
<text x="797.2" y="671.4" font-family='"Liberation Serif", serif' font-size="15.5" text-anchor="start">-3</text>
<rect x="1469" y="60" width="254" height="247.4" fill="none" stroke="#2c2c2c" stroke-width="1.5"/>
<path d="M1465 60H1469M1465 139H1469M1465 218H1469M1465 297H1469" stroke="#2c2c2c" stroke-width="1.2" fill="none"/>
<text x="1460.6" y="64.5" font-family='"Liberation Serif", serif' font-size="23" text-anchor="end">0.9</text>
<text x="1460.6" y="143.5" font-family='"Liberation Serif", serif' font-size="23" text-anchor="end">0.6</text>
<text x="1460.6" y="222.5" font-family='"Liberation Serif", serif' font-size="23" text-anchor="end">0.3</text>
<text x="1460.6" y="300.3" font-family='"Liberation Serif", serif' font-size="23" text-anchor="end">0</text>
<text x="1468.7" y="55.4" font-family='"Liberation Sans", sans-serif' font-size="13" text-anchor="start">x</text>
<text x="1479" y="55.4" font-family='"Liberation Serif", serif' font-size="22.5" text-anchor="start">10</text>
<text x="1497.3" y="41.4" font-family='"Liberation Serif", serif' font-size="13" text-anchor="start">-1</text>
<g clip-path="url(#clb1)" fill="none" stroke-linejoin="round">
<path d="M1468.5 294.08L1470.1 293.92L1471.71 293.75L1473.31 293.57L1474.91 293.38L1476.52 293.17L1478.12 292.94L1479.72 292.7L1481.33 292.43L1482.93 292.14L1484.53 291.82L1486.13 291.48L1487.74 291.1L1489.34 290.68L1490.94 290.22L1492.55 289.72L1494.15 289.17L1495.75 288.57L1497.36 287.91L1498.96 287.18L1500.56 286.38L1502.17 285.51L1503.77 284.55L1505.37 283.51L1506.97 282.37L1508.58 281.12L1510.18 279.76L1511.78 278.29L1513.39 276.69L1514.99 274.95L1516.59 273.08L1518.2 271.05L1519.8 268.88L1521.4 266.53L1523.01 264.02L1524.61 261.34L1526.21 258.48L1527.82 255.43L1529.42 252.2L1531.02 248.78L1532.62 245.17L1534.23 241.37L1535.83 237.38L1537.43 233.2L1539.04 228.85L1540.64 224.31L1542.24 219.62L1543.85 214.76L1545.45 209.76L1547.05 204.62L1548.66 199.37L1550.26 194.01L1551.86 188.58L1553.47 183.08L1555.07 177.54L1556.67 171.98L1558.28 166.43L1559.88 160.91L1561.48 155.45L1563.08 150.08L1564.69 144.82L1566.29 139.71L1567.89 134.77L1569.5 130.03L1571.1 125.52L1572.7 121.26L1574.31 117.28L1575.91 113.61L1577.51 110.27L1579.12 107.28L1580.72 104.66L1582.32 102.43L1583.92 100.6L1585.53 99.19L1587.13 98.2L1588.73 97.64L1590.34 97.51L1591.94 97.76L1593.54 98.35L1595.15 99.29L1596.75 100.57L1598.35 102.18L1599.96 104.11L1601.56 106.36L1603.16 108.91L1604.77 111.75L1606.37 114.86L1607.97 118.23L1609.58 121.84L1611.18 125.68L1612.78 129.71L1614.38 133.94L1615.99 138.32L1617.59 142.86L1619.19 147.52L1620.8 152.28L1622.4 157.13L1624 162.04L1625.61 166.99L1627.21 171.98L1628.81 176.96L1630.42 181.94L1632.02 186.89L1633.62 191.8L1635.22 196.65L1636.83 201.43L1638.43 206.12L1640.03 210.72L1641.64 215.2L1643.24 219.58L1644.84 223.82L1646.45 227.94L1648.05 231.91L1649.65 235.75L1651.26 239.43L1652.86 242.97L1654.46 246.36L1656.07 249.59L1657.67 252.67L1659.27 255.6L1660.88 258.38L1662.48 261.02L1664.08 263.5L1665.68 265.85L1667.29 268.06L1668.89 270.13L1670.49 272.08L1672.1 273.9L1673.7 275.6L1675.3 277.18L1676.91 278.66L1678.51 280.04L1680.11 281.31L1681.72 282.49L1683.32 283.59L1684.92 284.6L1686.53 285.53L1688.13 286.4L1689.73 287.19L1691.33 287.92L1692.94 288.83L1694.54 289.78L1696.14 290.77L1697.75 291.74L1699.35 292.62L1700.95 293.33L1702.56 293.82L1704.16 294.06L1705.76 294.15L1707.37 294.18L1708.97 294.08L1710.57 293.49L1712.17 292.58L1713.78 291.59L1715.38 290.72L1716.98 290.14L1718.59 289.98L1720.19 290.36L1721.79 290.9L1723.4 291.23L1725 291.32" stroke="#ee1126" stroke-width="3.4"/>
<path d="M1465 294.39L1466.62 294.25L1468.25 294.1L1469.88 293.95L1471.5 293.78L1473.12 293.6L1474.75 293.4L1476.38 293.19L1478 292.96L1479.62 292.71L1481.25 292.44L1482.88 292.15L1484.5 291.83L1486.12 291.48L1487.75 291.09L1489.38 290.67L1491 290.21L1492.62 289.7L1494.25 289.14L1495.88 288.52L1497.5 287.84L1499.12 287.1L1500.75 286.29L1502.38 285.39L1504 284.41L1505.62 283.34L1507.25 282.16L1508.88 280.88L1510.5 279.48L1512.12 277.96L1513.75 276.31L1515.38 274.52L1517 272.58L1518.62 270.49L1520.25 268.23L1521.88 265.81L1523.5 263.22L1525.12 260.44L1526.75 257.48L1528.38 254.33L1530 250.98L1531.62 247.44L1533.25 243.71L1534.88 239.78L1536.5 235.66L1538.12 231.35L1539.75 226.85L1541.38 222.18L1543 217.34L1544.62 212.35L1546.25 207.21L1547.88 201.94L1549.5 196.56L1551.12 191.09L1552.75 185.54L1554.38 179.94L1556 174.31L1557.62 168.68L1559.25 163.07L1560.88 157.51L1562.5 152.02L1564.12 146.65L1565.75 141.42L1567.38 136.35L1569 131.47L1570.62 126.83L1572.25 122.44L1573.88 118.32L1575.5 114.52L1577.12 111.05L1578.75 107.93L1580.38 105.19L1582 102.85L1583.62 100.91L1585.25 99.4L1586.88 98.33L1588.5 97.69L1590.12 97.5L1591.75 97.71L1593.38 98.27L1595 99.19L1596.62 100.46L1598.25 102.07L1599.88 104.01L1601.5 106.27L1603.12 108.85L1604.75 111.72L1606.38 114.87L1608 118.29L1609.62 121.96L1611.25 125.85L1612.88 129.96L1614.5 134.25L1616.12 138.71L1617.75 143.32L1619.38 148.05L1621 152.89L1622.62 157.81L1624.25 162.8L1625.88 167.83L1627.5 172.88L1629.12 177.94L1630.75 182.98L1632.38 187.99L1634 192.95L1635.62 197.85L1637.25 202.67L1638.88 207.4L1640.5 212.03L1642.12 216.55L1643.75 220.94L1645.38 225.2L1647 229.32L1648.62 233.3L1650.25 237.14L1651.88 240.82L1653.5 244.34L1655.12 247.71L1656.75 250.93L1658.38 253.98L1660 256.88L1661.62 259.63L1663.25 262.23L1664.88 264.68L1666.5 266.99L1668.12 269.16L1669.75 271.19L1671.38 273.09L1673 274.87L1674.62 276.53L1676.25 278.07L1677.88 279.5L1679.5 280.83L1681.12 282.07L1682.75 283.21L1684.38 284.26L1686 285.24L1687.62 286.13L1689.25 286.96L1690.88 287.72L1692.5 288.42L1694.12 289.06L1695.75 289.65L1697.38 290.19L1699 290.69L1700.62 291.14L1702.25 291.56L1703.88 291.94L1705.5 292.29L1707.12 292.61L1708.75 292.91L1710.38 293.18L1712 293.43L1713.62 293.66L1715.25 293.87L1716.88 294.07L1718.5 294.25L1720.12 294.41L1721.75 294.57L1723.38 294.71L1725 294.84" stroke="#000" stroke-width="3.9" stroke-dasharray="14 4.4"/>
</g>
<text x="1610.8" y="106" font-family='"Liberation Serif", serif' font-size="32" text-anchor="start">0.5</text>
<text x="1658.9" y="106" font-family='"Liberation Sans", sans-serif' font-size="32" textLength="11.8" lengthAdjust="spacingAndGlyphs">x</text>
<text x="1679.2" y="106" font-family='"Liberation Serif", serif' font-size="32" text-anchor="start">10</text>
<text x="1707" y="78.8" font-family='"Liberation Serif", serif' font-size="15.5" text-anchor="start">-3</text>
<rect x="1469" y="354.5" width="254" height="246.7" fill="none" stroke="#2c2c2c" stroke-width="1.5"/>
<path d="M1465 354.5H1469M1465 432.3H1469M1465 510H1469M1465 587.8H1469" stroke="#2c2c2c" stroke-width="1.2" fill="none"/>
<text x="1460.6" y="359" font-family='"Liberation Serif", serif' font-size="23" text-anchor="end">0.9</text>
<text x="1460.6" y="436.8" font-family='"Liberation Serif", serif' font-size="23" text-anchor="end">0.6</text>
<text x="1460.6" y="514.5" font-family='"Liberation Serif", serif' font-size="23" text-anchor="end">0.3</text>
<text x="1460.6" y="591.1" font-family='"Liberation Serif", serif' font-size="23" text-anchor="end">0</text>
<text x="1468.7" y="349.9" font-family='"Liberation Sans", sans-serif' font-size="13" text-anchor="start">x</text>
<text x="1479" y="349.9" font-family='"Liberation Serif", serif' font-size="22.5" text-anchor="start">10</text>
<text x="1497.3" y="335.9" font-family='"Liberation Serif", serif' font-size="13" text-anchor="start">-1</text>
<g clip-path="url(#clb2)" fill="none" stroke-linejoin="round">
<path d="M1468.5 583.69L1470.1 583.63L1471.71 583.56L1473.31 583.49L1474.91 583.42L1476.52 583.35L1478.12 583.27L1479.72 583.18L1481.33 583.07L1482.93 582.95L1484.53 582.81L1486.13 582.65L1487.74 582.45L1489.34 582.23L1490.94 581.97L1492.55 581.68L1494.15 581.33L1495.75 580.94L1497.36 580.5L1498.96 579.99L1500.56 579.42L1502.17 578.77L1503.77 578.05L1505.37 577.25L1506.97 576.35L1508.58 575.36L1510.18 574.27L1511.78 573.07L1513.39 571.75L1514.99 570.31L1516.59 568.74L1518.2 567.04L1519.8 565.19L1521.4 563.2L1523.01 561.05L1524.61 558.75L1526.21 556.28L1527.82 553.65L1529.42 550.85L1531.02 547.88L1532.62 544.74L1534.23 541.44L1535.83 537.98L1537.43 534.36L1539.04 530.58L1540.64 526.65L1542.24 522.56L1543.85 518.33L1545.45 513.95L1547.05 509.45L1548.66 504.81L1550.26 500.07L1551.86 495.22L1553.47 490.28L1555.07 485.26L1556.67 480.19L1558.28 475.06L1559.88 469.91L1561.48 464.74L1563.08 459.58L1564.69 454.45L1566.29 449.36L1567.89 444.34L1569.5 439.41L1571.1 434.59L1572.7 429.9L1574.31 425.36L1575.91 420.99L1577.51 416.82L1579.12 412.86L1580.72 409.14L1582.32 405.66L1583.92 402.46L1585.53 399.54L1587.13 396.93L1588.73 394.63L1590.34 392.65L1591.94 391.02L1593.54 389.73L1595.15 388.79L1596.75 388.22L1598.35 388L1599.96 388.15L1601.56 388.65L1603.16 389.5L1604.77 390.7L1606.37 392.24L1607.97 394.11L1609.58 396.31L1611.18 398.82L1612.78 401.62L1614.38 404.71L1615.99 408.08L1617.59 411.69L1619.19 415.53L1620.8 419.6L1622.4 423.86L1624 428.29L1625.61 432.88L1627.21 437.61L1628.81 442.45L1630.42 447.38L1632.02 452.39L1633.62 457.45L1635.22 462.55L1636.83 467.66L1638.43 472.77L1640.03 477.85L1641.64 482.9L1643.24 487.9L1644.84 492.82L1646.45 497.67L1648.05 502.41L1649.65 507.06L1651.26 511.58L1652.86 515.98L1654.46 520.25L1656.07 524.37L1657.67 528.35L1659.27 532.18L1660.88 535.86L1662.48 539.38L1664.08 542.74L1665.68 545.94L1667.29 548.98L1668.89 551.87L1670.49 554.6L1672.1 557.18L1673.7 559.6L1675.3 561.88L1676.91 564.02L1678.51 566.03L1680.11 567.89L1681.72 569.63L1683.32 571.25L1684.92 572.75L1686.53 574.16L1688.13 575.49L1689.73 576.74L1691.33 577.93L1692.94 579.05L1694.54 580.11L1696.14 581.1L1697.75 582.04L1699.35 582.92L1700.95 583.74L1702.56 584.52L1704.16 585.23L1705.76 585.9L1707.37 586.52L1708.97 587.09L1710.57 587.62L1712.17 588.09L1713.78 588.52L1715.38 588.9L1716.98 589.24L1718.59 589.53L1720.19 589.77L1721.79 589.96L1723.4 590.1L1725 590.22" stroke="#ee1126" stroke-width="3.4"/>
<path d="M1465 583.82L1466.62 583.76L1468.25 583.69L1469.88 583.62L1471.5 583.55L1473.12 583.48L1474.75 583.41L1476.38 583.34L1478 583.26L1479.62 583.17L1481.25 583.06L1482.88 582.94L1484.5 582.8L1486.12 582.63L1487.75 582.44L1489.38 582.22L1491 581.96L1492.62 581.66L1494.25 581.32L1495.88 580.92L1497.5 580.47L1499.12 579.96L1500.75 579.39L1502.38 578.74L1504 578.01L1505.62 577.2L1507.25 576.3L1508.88 575.31L1510.5 574.21L1512.12 572.99L1513.75 571.67L1515.38 570.22L1517 568.64L1518.62 566.92L1520.25 565.06L1521.88 563.05L1523.5 560.89L1525.12 558.57L1526.75 556.09L1528.38 553.44L1530 550.62L1531.62 547.63L1533.25 544.48L1534.88 541.17L1536.5 537.7L1538.12 534.07L1539.75 530.28L1541.38 526.34L1543 522.24L1544.62 518L1546.25 513.63L1547.88 509.12L1549.5 504.49L1551.12 499.74L1552.75 494.9L1554.38 489.97L1556 484.97L1557.62 479.91L1559.25 474.81L1560.88 469.68L1562.5 464.55L1564.12 459.42L1565.75 454.33L1567.38 449.29L1569 444.33L1570.62 439.45L1572.25 434.69L1573.88 430.07L1575.5 425.6L1577.12 421.31L1578.75 417.22L1580.38 413.35L1582 409.72L1583.62 406.35L1585.25 403.24L1586.88 400.43L1588.5 397.92L1590.12 395.73L1591.75 393.88L1593.38 392.36L1595 391.18L1596.62 390.37L1598.25 389.91L1599.88 389.81L1601.5 390.08L1603.12 390.73L1604.75 391.74L1606.38 393.12L1608 394.85L1609.62 396.92L1611.25 399.33L1612.88 402.07L1614.5 405.1L1616.12 408.43L1617.75 412.02L1619.38 415.87L1621 419.96L1622.62 424.25L1624.25 428.74L1625.88 433.39L1627.5 438.19L1629.12 443.12L1630.75 448.14L1632.38 453.25L1634 458.41L1635.62 463.61L1637.25 468.83L1638.88 474.04L1640.5 479.23L1642.12 484.38L1643.75 489.47L1645.38 494.48L1647 499.41L1648.62 504.24L1650.25 508.95L1651.88 513.53L1653.5 517.98L1655.12 522.29L1656.75 526.45L1658.38 530.45L1660 534.29L1661.62 537.97L1663.25 541.48L1664.88 544.83L1666.5 548.01L1668.12 551.02L1669.75 553.87L1671.38 556.56L1673 559.09L1674.62 561.47L1676.25 563.69L1677.88 565.77L1679.5 567.7L1681.12 569.5L1682.75 571.18L1684.38 572.72L1686 574.15L1687.62 575.47L1689.25 576.68L1690.88 577.79L1692.5 578.81L1694.12 579.73L1695.75 580.58L1697.38 581.35L1699 582.05L1700.62 582.68L1702.25 583.25L1703.88 583.77L1705.5 584.23L1707.12 584.65L1708.75 585.02L1710.38 585.36L1712 585.65L1713.62 585.92L1715.25 586.15L1716.88 586.36L1718.5 586.55L1720.12 586.71L1721.75 586.85L1723.38 586.98L1725 587.09" stroke="#000" stroke-width="3.9" stroke-dasharray="14 4.4"/>
</g>
<text x="1610.8" y="400.5" font-family='"Liberation Serif", serif' font-size="32" text-anchor="start">0.6</text>
<text x="1658.9" y="400.5" font-family='"Liberation Sans", sans-serif' font-size="32" textLength="11.8" lengthAdjust="spacingAndGlyphs">x</text>
<text x="1679.2" y="400.5" font-family='"Liberation Serif", serif' font-size="32" text-anchor="start">10</text>
<text x="1707" y="373.3" font-family='"Liberation Serif", serif' font-size="15.5" text-anchor="start">-3</text>
<rect x="1469" y="652.6" width="254" height="246.9" fill="none" stroke="#2c2c2c" stroke-width="1.5"/>
<path d="M1465 652.6H1469M1465 731H1469M1465 809.8H1469M1465 888.6H1469" stroke="#2c2c2c" stroke-width="1.2" fill="none"/>
<text x="1460.6" y="657.1" font-family='"Liberation Serif", serif' font-size="23" text-anchor="end">0.6</text>
<text x="1460.6" y="735.5" font-family='"Liberation Serif", serif' font-size="23" text-anchor="end">0.4</text>
<text x="1460.6" y="814.3" font-family='"Liberation Serif", serif' font-size="23" text-anchor="end">0.2</text>
<text x="1460.6" y="891.9" font-family='"Liberation Serif", serif' font-size="23" text-anchor="end">0</text>
<text x="1468.7" y="648" font-family='"Liberation Sans", sans-serif' font-size="13" text-anchor="start">x</text>
<text x="1479" y="648" font-family='"Liberation Serif", serif' font-size="22.5" text-anchor="start">10</text>
<text x="1497.3" y="634" font-family='"Liberation Serif", serif' font-size="13" text-anchor="start">-1</text>
<g clip-path="url(#clb3)" fill="none" stroke-linejoin="round">
<path d="M1468.5 887.48L1470.1 887.32L1471.71 887.15L1473.31 886.95L1474.91 886.73L1476.52 886.49L1478.12 886.22L1479.72 885.92L1481.33 885.58L1482.93 885.21L1484.53 884.79L1486.13 884.34L1487.74 883.83L1489.34 883.28L1490.94 882.67L1492.55 882L1494.15 881.27L1495.75 880.47L1497.36 879.6L1498.96 878.65L1500.56 877.62L1502.17 876.5L1503.77 875.29L1505.37 873.98L1506.97 872.57L1508.58 871.06L1510.18 869.43L1511.78 867.68L1513.39 865.81L1514.99 863.81L1516.59 861.68L1518.2 859.42L1519.8 857.01L1521.4 854.47L1523.01 851.77L1524.61 848.93L1526.21 845.95L1527.82 842.8L1529.42 839.51L1531.02 836.07L1532.62 832.48L1534.23 828.74L1535.83 824.85L1537.43 820.82L1539.04 816.65L1540.64 812.35L1542.24 807.92L1543.85 803.38L1545.45 798.73L1547.05 793.97L1548.66 789.13L1550.26 784.21L1551.86 779.23L1553.47 774.2L1555.07 769.14L1556.67 764.07L1558.28 758.99L1559.88 753.94L1561.48 748.94L1563.08 744.01L1564.69 739.16L1566.29 734.44L1567.89 729.85L1569.5 725.43L1571.1 721.2L1572.7 717.18L1574.31 713.4L1575.91 709.87L1577.51 706.6L1579.12 703.61L1580.72 700.91L1582.32 698.48L1583.92 696.34L1585.53 694.47L1587.13 692.86L1588.73 691.51L1590.34 690.39L1591.94 689.5L1593.54 688.83L1595.15 688.36L1596.75 688.1L1598.35 688.04L1599.96 688.2L1601.56 688.58L1603.16 689.2L1604.77 690.06L1606.37 691.18L1607.97 692.59L1609.58 694.28L1611.18 696.27L1612.78 698.56L1614.38 701.17L1615.99 704.07L1617.59 707.26L1619.19 710.73L1620.8 714.46L1622.4 718.44L1624 722.63L1625.61 727.02L1627.21 731.58L1628.81 736.29L1630.42 741.11L1632.02 746.04L1633.62 751.04L1635.22 756.09L1636.83 761.17L1638.43 766.26L1640.03 771.34L1641.64 776.4L1643.24 781.41L1644.84 786.37L1646.45 791.26L1648.05 796.07L1649.65 800.78L1651.26 805.39L1652.86 809.88L1654.46 814.25L1656.07 818.5L1657.67 822.6L1659.27 826.57L1660.88 830.4L1662.48 834.07L1664.08 837.6L1665.68 840.98L1667.29 844.2L1668.89 847.27L1670.49 850.2L1672.1 852.97L1673.7 855.6L1675.3 858.08L1676.91 860.43L1678.51 862.63L1680.11 864.7L1681.72 866.64L1683.32 868.46L1684.92 870.15L1686.53 871.74L1688.13 873.21L1689.73 874.57L1691.33 875.83L1692.94 877L1694.54 878.08L1696.14 879.08L1697.75 879.99L1699.35 880.83L1700.95 881.6L1702.56 882.3L1704.16 882.94L1705.76 883.53L1707.37 884.06L1708.97 884.54L1710.57 884.98L1712.17 885.37L1713.78 885.73L1715.38 886.05L1716.98 886.34L1718.59 886.6L1720.19 886.83L1721.79 887.04L1723.4 887.23L1725 887.39" stroke="#ee1126" stroke-width="3.4"/>
<path d="M1465 887.76L1466.62 887.64L1468.25 887.5L1469.88 887.35L1471.5 887.17L1473.12 886.98L1474.75 886.76L1476.38 886.51L1478 886.24L1479.62 885.93L1481.25 885.6L1482.88 885.22L1484.5 884.8L1486.12 884.34L1487.75 883.83L1489.38 883.27L1491 882.65L1492.62 881.97L1494.25 881.22L1495.88 880.41L1497.5 879.52L1499.12 878.55L1500.75 877.49L1502.38 876.35L1504 875.11L1505.62 873.77L1507.25 872.32L1508.88 870.76L1510.5 869.09L1512.12 867.29L1513.75 865.37L1515.38 863.31L1517 861.12L1518.62 858.79L1520.25 856.31L1521.88 853.69L1523.5 850.91L1525.12 847.99L1526.75 844.91L1528.38 841.67L1530 838.28L1531.62 834.74L1533.25 831.04L1534.88 827.18L1536.5 823.18L1538.12 819.04L1539.75 814.75L1541.38 810.34L1543 805.79L1544.62 801.13L1546.25 796.36L1547.88 791.49L1549.5 786.54L1551.12 781.51L1552.75 776.42L1554.38 771.28L1556 766.12L1557.62 760.94L1559.25 755.76L1560.88 750.6L1562.5 745.48L1564.12 740.41L1565.75 735.43L1567.38 730.54L1569 725.76L1570.62 721.12L1572.25 716.64L1573.88 712.33L1575.5 708.21L1577.12 704.3L1578.75 700.62L1580.38 697.19L1582 694.02L1583.62 691.13L1585.25 688.52L1586.88 686.23L1588.5 684.24L1590.12 682.58L1591.75 681.25L1593.38 680.26L1595 679.62L1596.62 679.32L1598.25 679.37L1599.88 679.77L1601.5 680.52L1603.12 681.61L1604.75 683.03L1606.38 684.79L1608 686.87L1609.62 689.25L1611.25 691.94L1612.88 694.92L1614.5 698.17L1616.12 701.67L1617.75 705.42L1619.38 709.39L1621 713.57L1622.62 717.93L1624.25 722.46L1625.88 727.15L1627.5 731.96L1629.12 736.88L1630.75 741.89L1632.38 746.97L1634 752.1L1635.62 757.27L1637.25 762.45L1638.88 767.63L1640.5 772.79L1642.12 777.91L1643.75 782.99L1645.38 788L1647 792.93L1648.62 797.77L1650.25 802.51L1651.88 807.13L1653.5 811.64L1655.12 816.02L1656.75 820.27L1658.38 824.37L1660 828.33L1661.62 832.13L1663.25 835.79L1664.88 839.29L1666.5 842.64L1668.12 845.83L1669.75 848.86L1671.38 851.74L1673 854.47L1674.62 857.05L1676.25 859.48L1677.88 861.77L1679.5 863.93L1681.12 865.94L1682.75 867.83L1684.38 869.59L1686 871.23L1687.62 872.76L1689.25 874.17L1690.88 875.48L1692.5 876.69L1694.12 877.81L1695.75 878.84L1697.38 879.79L1699 880.65L1700.62 881.45L1702.25 882.17L1703.88 882.83L1705.5 883.44L1707.12 883.98L1708.75 884.48L1710.38 884.93L1712 885.33L1713.62 885.7L1715.25 886.03L1716.88 886.32L1718.5 886.59L1720.12 886.82L1721.75 887.04L1723.38 887.22L1725 887.39" stroke="#000" stroke-width="3.9" stroke-dasharray="14 4.4"/>
</g>
<text x="1610.8" y="698.6" font-family='"Liberation Serif", serif' font-size="32" text-anchor="start">0.4</text>
<text x="1658.9" y="698.6" font-family='"Liberation Sans", sans-serif' font-size="32" textLength="11.8" lengthAdjust="spacingAndGlyphs">x</text>
<text x="1679.2" y="698.6" font-family='"Liberation Serif", serif' font-size="32" text-anchor="start">10</text>
<text x="1707" y="671.4" font-family='"Liberation Serif", serif' font-size="15.5" text-anchor="start">-3</text>
</svg>
</body></html>
